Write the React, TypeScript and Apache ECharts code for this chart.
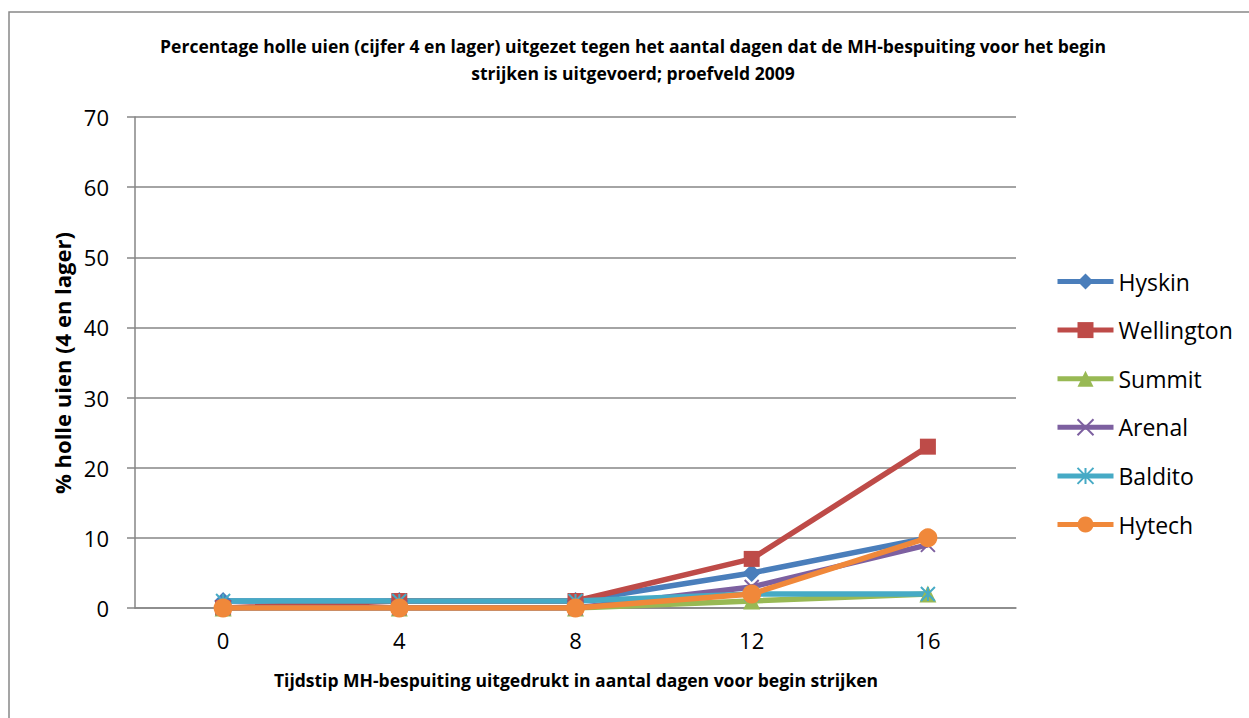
import React, { useEffect, useRef } from "react";
import * as echarts from "echarts";

const categories = ["0", "4", "8", "12", "16"];
const seriesNames = ["Hyskin", "Wellington", "Summit", "Arenal", "Baldito", "Hytech"];
const hyskin = [1, 1, 1, 5, 10];
const wellington = [0, 1, 1, 7, 23];
const summit = [0, 0, 0, 1, 2];
const arenal = [0, 0, 0, 3, 9];
const baldito = [1, 1, 1, 2, 2];
const hytech = [0, 0, 0, 2, 10];
const yTicks = [0, 10, 20, 30, 40, 50, 60, 70];

const titleText =
  "Percentage holle uien (cijfer 4 en lager) uitgezet tegen het aantal dagen dat de MH-bespuiting voor het begin\nstrijken is uitgevoerd; proefveld 2009";
const yTitle = "% holle uien (4 en lager)";
const xTitle = "Tijdstip MH-bespuiting uitgedrukt in aantal dagen voor begin strijken";

const FONT = "'Open Sans', 'Noto Sans', sans-serif";

export default function App() {
  const ref = useRef<HTMLDivElement>(null);
  useEffect(() => {
    document.body.style.margin = "0";
    if (!ref.current) return;
    const chart = echarts.init(ref.current, undefined, { renderer: "svg" });
    const colors = ["#4A7EBB", "#BE4B48", "#98B954", "#7D60A0", "#46AAC5", "#F0883A"];
    const dataSets = [hyskin, wellington, summit, arenal, baldito, hytech];
    const symbols = [
      "diamond",
      "rect",
      "triangle",
      "path://M0,0L10,10M10,0L0,10",
      "path://M0,0L10,10M10,0L0,10M5,0L5,10",
      "circle",
    ];
    const sizes = [18, 16, 17, 14, 14, 19];
    const series = seriesNames.map((name, i) => {
      const stroked = i === 3 || i === 4;
      return {
        name,
        type: "line",
        data: dataSets[i],
        symbol: symbols[i],
        symbolSize: sizes[i],
        showAllSymbol: true,
        lineStyle: { color: colors[i], width: 5.5 },
        itemStyle: stroked
          ? { color: "rgba(0,0,0,0)", borderColor: colors[i], borderWidth: 2 }
          : { color: colors[i], borderWidth: 0 },
        emphasis: { disabled: true },
      };
    });
    chart.setOption({
      animation: false,
      backgroundColor: "#ffffff",
      textStyle: { fontFamily: FONT },
      grid: { left: 135, right: 233, top: 117, bottom: 110, containLabel: false },
      legend: {
        orient: "vertical",
        left: 1055,
        top: 270,
        padding: 0,
        itemWidth: 56,
        itemHeight: 20,
        itemGap: 25.6,
        data: seriesNames,
        lineStyle: { width: 5 },
        textStyle: { fontSize: 23, color: "#000", fontFamily: FONT, lineHeight: 20 },
      },
      xAxis: {
        type: "category",
        data: categories,
        boundaryGap: true,
        axisLine: { show: true, lineStyle: { color: "#868686", width: 1.5 } },
        axisTick: { show: false },
        axisLabel: { color: "#000", fontSize: 22, margin: 21, fontFamily: FONT },
        splitLine: { show: false },
      },
      yAxis: {
        type: "value",
        min: yTicks[0],
        max: yTicks[yTicks.length - 1],
        interval: 10,
        axisLine: { show: true, lineStyle: { color: "#868686", width: 1.5 } },
        axisTick: { show: true, length: 8, lineStyle: { color: "#868686", width: 1.5 } },
        axisLabel: { color: "#000", fontSize: 22, margin: 26, fontFamily: FONT },
        splitLine: { show: true, lineStyle: { color: "#868686", width: 1.5 } },
      },
      series,
      graphic: [
        {
          type: "rect",
          shape: { x: 9, y: 12, width: 1300, height: 800 },
          style: { fill: "none", stroke: "#888888", lineWidth: 1.5 },
          silent: true,
        },
        {
          type: "text",
          x: 633,
          y: 59,
          style: {
            text: titleText,
            fontSize: 17.5,
            fontWeight: "bold",
            fontFamily: FONT,
            fill: "#000",
            align: "center",
            verticalAlign: "middle",
            lineHeight: 27,
          },
        },
        {
          type: "text",
          x: 62,
          y: 363,
          rotation: Math.PI / 2,
          style: {
            text: yTitle,
            fontSize: 22,
            fontWeight: "bold",
            fontFamily: FONT,
            fill: "#000",
            align: "center",
            verticalAlign: "middle",
          },
        },
        {
          type: "text",
          x: 576,
          y: 680,
          style: {
            text: xTitle,
            fontSize: 17.5,
            fontWeight: "bold",
            fontFamily: FONT,
            fill: "#000",
            align: "center",
            verticalAlign: "middle",
          },
        },
      ],
    });
    return () => chart.dispose();
  }, []);
  return <div ref={ref} style={{ width: 1249, height: 718 }} />;
}
